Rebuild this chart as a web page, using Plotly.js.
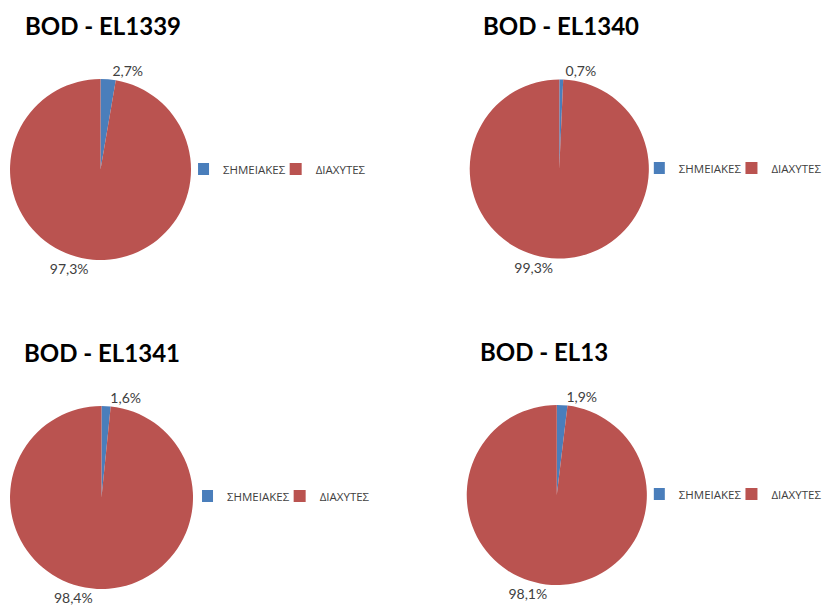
<!DOCTYPE html>
<html>
<head>
<meta charset="utf-8">
<script src="https://cdn.plot.ly/plotly-3.0.1.min.js"></script>
<style>html,body{margin:0;padding:0;background:#fff;}#chart{width:827px;height:611px;}</style>
</head>
<body>
<div id="chart"></div>
<script>
// Data
const categories = ['ΣΗΜΕΙΑΚΕΣ', 'ΔΙΑΧΥΤΕΣ'];
const chartTitles = ['BOD - EL1339', 'BOD - EL1340', 'BOD - EL1341', 'BOD - EL13'];
const el1339 = [2.7, 97.3];
const el1340 = [0.7, 99.3];
const el1341 = [1.6, 98.4];
const el13 = [1.9, 98.1];
const seriesValues = [el1339, el1340, el1341, el13];

// Styling / layout
const colors = ['#4A7EBB', '#BA5350'];
const W = 827, H = 611;
const px = v => v / W;
const py = v => 1 - v / H;
// pie boxes in pixels: [left, right, top, bottom]
const boxes = [[10, 192, 79, 260], [472, 652, 79, 259], [10, 194, 406, 589], [469, 650, 404, 586]];
const titlePos = [[23, 26], [483, 26], [22, 352], [480, 351]];
const legendPos = [[199, 169], [657, 168], [203, 496], [657, 494]];
const legendIds = ['legend', 'legend2', 'legend3', 'legend4'];

const labelFont = {family: 'Lato, "Open Sans", sans-serif', size: 14, color: '#404040'};
const legendFont = {family: '"Open Sans", "Noto Sans", sans-serif', size: 11.5, color: '#404040'};

const traces = seriesValues.map((vals, i) => ({
  type: 'pie',
  labels: categories,
  values: vals,
  sort: false,
  direction: 'clockwise',
  rotation: 0,
  marker: {colors: colors, line: {width: 0}},
  textposition: 'outside',
  texttemplate: '%{percent:.1%}',
  textfont: labelFont,
  outsidetextfont: labelFont,
  hoverinfo: 'label+percent',
  domain: {
    x: [px(boxes[i][0]), px(boxes[i][1])],
    y: [py(boxes[i][3]), py(boxes[i][2])]
  },
  legend: legendIds[i],
  legendgroup: 'g' + i,
  showlegend: true
}));

const layout = {
  width: W,
  height: H,
  margin: {l: 0, r: 0, t: 0, b: 0},
  paper_bgcolor: '#ffffff',
  separators: ',.',
  showlegend: true,
  annotations: chartTitles.map((t, i) => ({
    text: t,
    xref: 'paper', yref: 'paper',
    x: px(titlePos[i][0]), y: py(titlePos[i][1]),
    xanchor: 'left', yanchor: 'middle',
    showarrow: false,
    font: {family: 'Lato, "Open Sans", sans-serif', size: 24, color: '#000000', weight: 700}
  }))
};

legendIds.forEach((id, i) => {
  layout[id] = {
    orientation: 'h',
    traceorder: 'normal',
    x: px(legendPos[i][0]),
    y: py(legendPos[i][1]),
    xanchor: 'left',
    yanchor: 'middle',
    bgcolor: 'rgba(0,0,0,0)',
    borderwidth: 0,
    itemwidth: 30,
    indentation: -15,
    font: legendFont
  };
});

Plotly.newPlot('chart', traces, layout, {displayModeBar: false, staticPlot: true});
</script>
</body>
</html>
